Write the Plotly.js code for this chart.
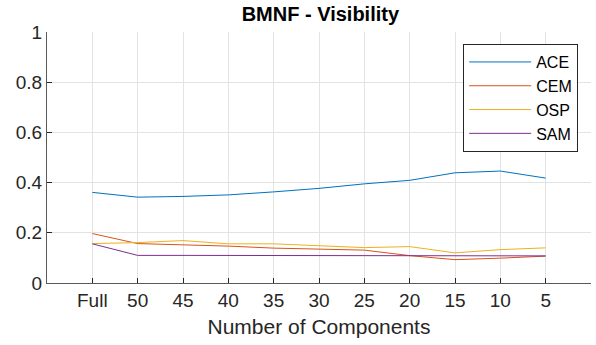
<!DOCTYPE html>
<html>
<head>
<meta charset="utf-8">
<script src="https://cdn.plot.ly/plotly-3.0.1.min.js"></script>
<style>html,body{margin:0;padding:0;background:#fff}#chart{width:596px;height:345px}</style>
</head>
<body>
<div id="chart"></div>
<script>
const categories = ["Full","50","45","40","35","30","25","20","15","10","5"];
const seriesNames = ["ACE","CEM","OSP","SAM"];
const ACE = [0.361,0.342,0.345,0.351,0.363,0.377,0.395,0.409,0.439,0.446,0.418];
const CEM = [0.197,0.157,0.152,0.147,0.139,0.136,0.131,0.109,0.093,0.099,0.107];
const OSP = [0.157,0.161,0.169,0.156,0.156,0.149,0.141,0.145,0.120,0.133,0.140];
const SAM = [0.156,0.110,0.110,0.110,0.110,0.110,0.110,0.110,0.110,0.110,0.108];
const yTickVals = [0,0.2,0.4,0.6,0.8,1];
const yTickText = ["0","0.2","0.4","0.6","0.8","1"];
const colors = ["#0072BD","#D95319","#EDB120","#7E2F8E"];
const values = [ACE, CEM, OSP, SAM];
const xPos = categories.map((c,i)=>i+1);

const traces = values.map((v,k)=>({
  x: xPos, y: v, type: 'scatter', mode: 'lines', name: seriesNames[k],
  line: {color: colors[k], width: 1}
}));

const font = {family: '"Liberation Sans", Arial, Helvetica, sans-serif', color: '#262626'};
const layout = {
  width: 596, height: 345,
  margin: {l: 47, r: 5, t: 32, b: 62},
  paper_bgcolor: '#fff', plot_bgcolor: '#fff',
  font: Object.assign({size: 19}, font),
  title: {text: '<b>BMNF - Visibility</b>', font: Object.assign({}, font, {size: 20, color:'#000'}), x: 0.5375, xanchor: 'center', y: 0.96, yanchor: 'middle'},
  showlegend: true,
  legend: {x: 0.765, y: 0.952, xanchor: 'left', yanchor: 'top', bordercolor: '#262626', borderwidth: 1,
           bgcolor: '#fff', font: Object.assign({}, font, {size: 16, color:'#000'}), itemwidth: 62, tracegroupgap: 0},
  xaxis: {
    range: [0, 12], tickvals: xPos, ticktext: categories,
    showgrid: true, gridcolor: '#e3e3e3', gridwidth: 1, zeroline: false,
    showline: true, linecolor: '#5a5a5a', linewidth: 1, mirror: false,
    ticks: 'inside', ticklen: 5, tickcolor: '#262626', tickfont: Object.assign({}, font, {size: 19}),
    title: {text: 'Number of Components', font: Object.assign({}, font, {size: 21}), standoff: 9}
  },
  yaxis: {
    range: [0, 1], tickvals: yTickVals, ticktext: yTickText,
    showgrid: true, gridcolor: '#e3e3e3', gridwidth: 1, zeroline: false,
    showline: true, linecolor: '#5a5a5a', linewidth: 1, mirror: false,
    ticks: 'inside', ticklen: 5, tickcolor: '#262626', tickfont: Object.assign({}, font, {size: 19})
  }
};
Plotly.newPlot('chart', traces, layout, {displayModeBar: false, staticPlot: true});
</script>
</body>
</html>
